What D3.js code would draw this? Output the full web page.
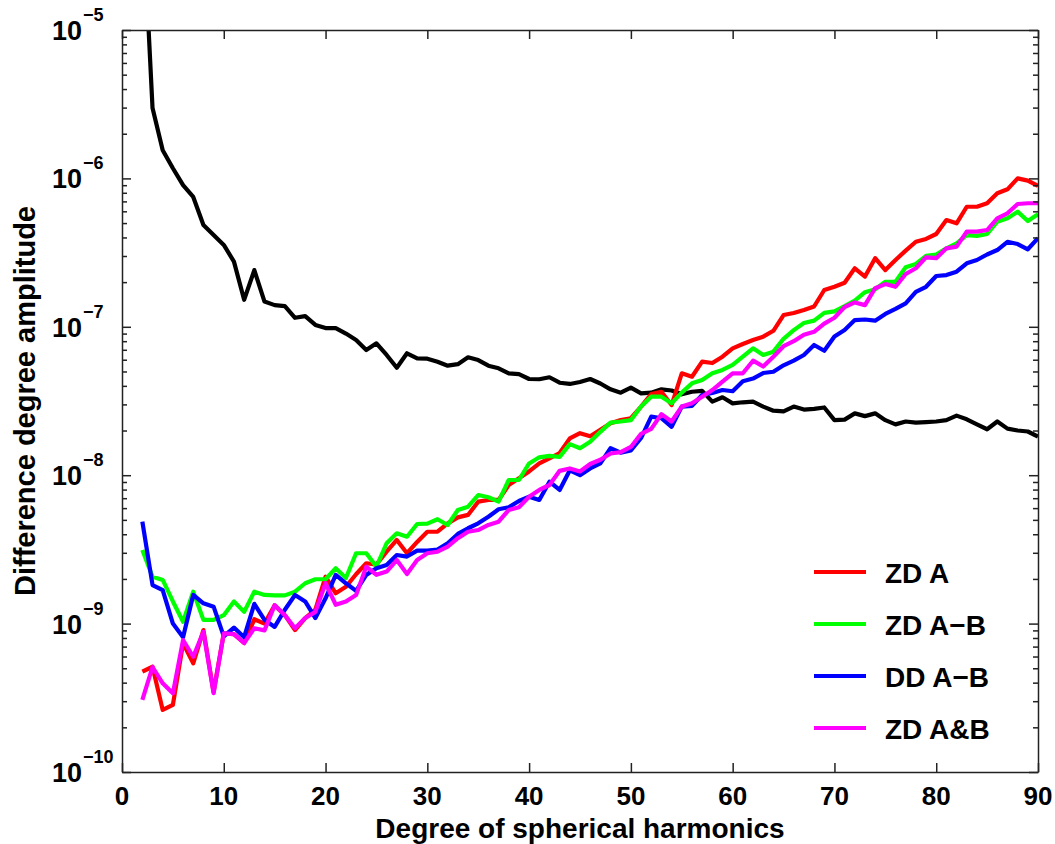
<!DOCTYPE html>
<html><head><meta charset="utf-8">
<script src="https://cdn.jsdelivr.net/npm/d3@7"></script>
<style>
body{margin:0;background:#fff;}
text{font-family:"Liberation Sans",Arial,Helvetica,sans-serif;font-weight:bold;fill:#000;}
</style>
</head><body>
<svg id="chart" width="1055" height="844"></svg>
<script>
// Degree of spherical harmonics (x)
const degrees = d3.range(2, 91);

// Black reference curve
const reference = [
 7e-5, 2.98e-6, 1.55e-6, 1.17e-6, 9.0e-7, 7.5e-7, 4.85e-7, 4.15e-7, 3.56e-7, 2.75e-7,
 1.52e-7, 2.41e-7, 1.48e-7, 1.40e-7, 1.38e-7, 1.15e-7, 1.18e-7, 1.03e-7, 9.8e-8, 9.8e-8,
 9.0e-8, 8.15e-8, 6.98e-8, 7.74e-8, 6.46e-8, 5.3e-8, 6.63e-8, 6.13e-8, 6.1e-8, 5.82e-8,
 5.47e-8, 5.6e-8, 6.23e-8, 5.97e-8, 5.47e-8, 5.25e-8, 4.86e-8, 4.8e-8, 4.45e-8, 4.43e-8,
 4.57e-8, 4.2e-8, 4.12e-8, 4.25e-8, 4.45e-8, 4.15e-8, 3.79e-8, 3.6e-8, 3.89e-8, 3.56e-8,
 3.6e-8, 3.79e-8, 3.72e-8, 3.51e-8, 3.65e-8, 3.7e-8, 3.13e-8, 3.35e-8, 3.05e-8, 3.1e-8,
 3.13e-8, 2.9e-8, 2.72e-8, 2.69e-8, 2.9e-8, 2.77e-8, 2.8e-8, 2.86e-8, 2.35e-8, 2.37e-8,
 2.61e-8, 2.5e-8, 2.61e-8, 2.35e-8, 2.2e-8, 2.3e-8, 2.26e-8, 2.28e-8, 2.3e-8, 2.35e-8,
 2.52e-8, 2.38e-8, 2.2e-8, 2.04e-8, 2.3e-8, 2.06e-8, 2.0e-8, 1.97e-8, 1.82e-8
];
// ZD A (red)
const zdA = [
 4.74e-10, 5.12e-10, 2.62e-10, 2.83e-10, 7.36e-10, 5.4e-10, 9.05e-10, 3.45e-10, 8.6e-10, 8.5e-10,
 7.4e-10, 1.07e-9, 1.0e-9, 1.33e-9, 1.14e-9, 9.05e-10, 1.09e-9, 1.24e-9, 2.07e-9, 1.6e-9,
 1.77e-9, 2.15e-9, 2.55e-9, 2.5e-9, 3.05e-9, 3.66e-9, 2.98e-9, 3.55e-9, 4.16e-9, 4.16e-9,
 4.74e-9, 5.2e-9, 5.4e-9, 6.63e-9, 6.81e-9, 6.81e-9, 8.59e-9, 9.53e-9, 1.06e-8, 1.2e-8,
 1.3e-8, 1.41e-8, 1.77e-8, 1.92e-8, 1.83e-8, 2.02e-8, 2.24e-8, 2.35e-8, 2.42e-8, 2.9e-8,
 3.52e-8, 3.65e-8, 2.97e-8, 4.86e-8, 4.61e-8, 5.82e-8, 5.7e-8, 6.29e-8, 7.16e-8, 7.66e-8,
 8.15e-8, 8.58e-8, 9.4e-8, 1.2e-7, 1.24e-7, 1.3e-7, 1.37e-7, 1.77e-7, 1.86e-7, 1.98e-7,
 2.48e-7, 2.18e-7, 2.9e-7, 2.41e-7, 2.82e-7, 3.26e-7, 3.74e-7, 3.91e-7, 4.22e-7, 5.24e-7,
 4.98e-7, 6.44e-7, 6.44e-7, 6.79e-7, 7.94e-7, 8.44e-7, 1.0e-6, 9.66e-7, 8.89e-7
];
// ZD A-B (green)
const zdAB = [
 3.13e-9, 2.07e-9, 1.97e-9, 1.41e-9, 1.03e-9, 1.64e-9, 1.06e-9, 1.06e-9, 1.14e-9, 1.41e-9,
 1.2e-9, 1.64e-9, 1.56e-9, 1.55e-9, 1.55e-9, 1.64e-9, 1.87e-9, 1.99e-9, 1.99e-9, 2.36e-9,
 2.03e-9, 2.98e-9, 2.98e-9, 2.42e-9, 3.48e-9, 4.06e-9, 3.85e-9, 4.69e-9, 4.72e-9, 5.05e-9,
 4.62e-9, 5.83e-9, 6.13e-9, 7.35e-9, 7.1e-9, 6.63e-9, 9.28e-9, 9.28e-9, 1.2e-8, 1.32e-8,
 1.35e-8, 1.33e-8, 1.62e-8, 1.52e-8, 1.68e-8, 1.96e-8, 2.26e-8, 2.3e-8, 2.35e-8, 2.9e-8,
 3.38e-8, 3.38e-8, 3.05e-8, 3.6e-8, 4.16e-8, 4.38e-8, 4.86e-8, 5.12e-8, 5.53e-8, 6.29e-8,
 7.16e-8, 6.46e-8, 6.8e-8, 8.3e-8, 9.5e-8, 1.06e-7, 1.1e-7, 1.24e-7, 1.27e-7, 1.38e-7,
 1.5e-7, 1.71e-7, 1.79e-7, 2.01e-7, 2.01e-7, 2.52e-7, 2.65e-7, 3.01e-7, 3.07e-7, 3.38e-7,
 3.65e-7, 4.15e-7, 4.1e-7, 4.22e-7, 5.11e-7, 5.38e-7, 5.97e-7, 5.16e-7, 5.73e-7
];
// DD A-B (blue)
const ddAB = [
 4.86e-9, 1.82e-9, 1.68e-9, 1.0e-9, 8.1e-10, 1.56e-9, 1.37e-9, 1.3e-9, 8.2e-10, 9.4e-10,
 8.1e-10, 1.36e-9, 1.06e-9, 9.5e-10, 1.24e-9, 1.56e-9, 1.41e-9, 1.09e-9, 1.48e-9, 2.13e-9,
 1.87e-9, 1.66e-9, 2.13e-9, 2.36e-9, 2.48e-9, 2.9e-9, 2.83e-9, 3.1e-9, 3.1e-9, 3.15e-9,
 3.48e-9, 4.02e-9, 4.39e-9, 4.74e-9, 5.25e-9, 5.89e-9, 6.08e-9, 6.7e-9, 7.16e-9, 6.81e-9,
 9.04e-9, 7.95e-9, 1.08e-8, 1.0e-8, 1.11e-8, 1.2e-8, 1.52e-8, 1.42e-8, 1.47e-8, 1.78e-8,
 2.48e-8, 2.42e-8, 2.12e-8, 2.9e-8, 2.93e-8, 3.47e-8, 3.58e-8, 3.75e-8, 3.68e-8, 4.3e-8,
 4.48e-8, 4.88e-8, 4.98e-8, 5.5e-8, 5.91e-8, 6.46e-8, 7.54e-8, 6.9e-8, 8.6e-8, 9.52e-8,
 1.11e-7, 1.12e-7, 1.1e-7, 1.22e-7, 1.32e-7, 1.44e-7, 1.72e-7, 1.86e-7, 2.2e-7, 2.23e-7,
 2.35e-7, 2.68e-7, 2.82e-7, 3.07e-7, 3.29e-7, 3.74e-7, 3.61e-7, 3.33e-7, 3.95e-7
];
// ZD A&B (magenta)
const zdAandB = [
 3.06e-10, 5.1e-10, 3.96e-10, 3.39e-10, 7.75e-10, 5.98e-10, 8.8e-10, 3.4e-10, 8.6e-10, 8.5e-10,
 7.4e-10, 9.3e-10, 9.0e-10, 1.33e-9, 1.14e-9, 9.3e-10, 1.09e-9, 1.2e-9, 1.87e-9, 1.34e-9,
 1.41e-9, 1.56e-9, 2.42e-9, 2.13e-9, 2.24e-9, 2.68e-9, 2.16e-9, 2.68e-9, 2.98e-9, 3.05e-9,
 3.3e-9, 3.76e-9, 4.16e-9, 4.27e-9, 4.62e-9, 4.86e-9, 5.83e-9, 6.08e-9, 7.16e-9, 7.95e-9,
 8.59e-9, 1.07e-8, 1.11e-8, 1.06e-8, 1.19e-8, 1.27e-8, 1.4e-8, 1.43e-8, 1.55e-8, 1.9e-8,
 2.05e-8, 2.58e-8, 2.3e-8, 2.9e-8, 3.05e-8, 3.38e-8, 3.75e-8, 4.27e-8, 4.86e-8, 4.86e-8,
 5.91e-8, 5.4e-8, 6.29e-8, 7.4e-8, 8.0e-8, 8.85e-8, 9.25e-8, 1.05e-7, 1.15e-7, 1.36e-7,
 1.46e-7, 1.4e-7, 1.82e-7, 1.94e-7, 1.86e-7, 2.27e-7, 2.48e-7, 2.94e-7, 2.9e-7, 3.38e-7,
 3.47e-7, 4.38e-7, 4.38e-7, 4.49e-7, 5.38e-7, 5.82e-7, 6.72e-7, 6.8e-7, 6.8e-7
];

const xTicks = [0, 10, 20, 30, 40, 50, 60, 70, 80, 90];
const yExponents = [-10, -9, -8, -7, -6, -5];
const legendNames = ["ZD A", "ZD A\u2212B", "DD A\u2212B", "ZD A&B"];
const legendColors = ["#ff0000", "#00ff00", "#0000ff", "#ff00ff"];
const xTitle = "Degree of spherical harmonics";
const yTitle = "Difference degree amplitude";

const L = 122, R = 1038, T = 30, B = 772;
const svg = d3.select("#chart");
const x = d3.scaleLinear().domain([0, 90]).range([L, R]);
const y = d3.scaleLog().domain([1e-10, 1e-5]).range([B, T]);

const majors = yExponents.map(e => Math.pow(10, e));
const minors = [];
yExponents.slice(0, -1).forEach(e => { for (let k = 2; k <= 9; k++) minors.push(k * Math.pow(10, e)); });

svg.append("defs").append("clipPath").attr("id", "plotclip")
  .append("rect").attr("x", L).attr("y", T).attr("width", R - L).attr("height", B - T);

// lines
const line = d3.line().x((d, i) => x(degrees[i])).y(d => y(d));
const plot = svg.append("g").attr("clip-path", "url(#plotclip)");
const allSeries = [
  {v: reference, c: "#000000"},
  {v: zdA, c: legendColors[0]},
  {v: zdAB, c: legendColors[1]},
  {v: ddAB, c: legendColors[2]},
  {v: zdAandB, c: legendColors[3]}
];
allSeries.forEach(s => {
  plot.append("path").datum(s.v).attr("d", line)
    .attr("fill", "none").attr("stroke", s.c).attr("stroke-width", 4.2)
    .attr("stroke-linejoin", "round").attr("stroke-linecap", "butt");
});

function styleAxis(g) {
  g.selectAll("path.domain").attr("stroke", "#222").attr("stroke-width", 1.5);
  g.selectAll(".tick line").attr("stroke", "#222").attr("stroke-width", 1.5);
  g.selectAll("text").remove();
}

// x axes
const xb = svg.append("g").attr("transform", `translate(0,${B})`)
  .call(d3.axisBottom(x).tickValues(xTicks).tickSize(-9).tickSizeOuter(0));
styleAxis(xb);
const xt = svg.append("g").attr("transform", `translate(0,${T})`)
  .call(d3.axisTop(x).tickValues(xTicks).tickSize(-9).tickSizeOuter(0));
styleAxis(xt);

// y axes (major and minor)
[[d3.axisLeft, L], [d3.axisRight, R]].forEach(([ax, pos]) => {
  const gm = svg.append("g").attr("transform", `translate(${pos},0)`)
    .call(ax(y).tickValues(majors).tickSize(-9).tickSizeOuter(0));
  styleAxis(gm);
  const gn = svg.append("g").attr("transform", `translate(${pos},0)`)
    .call(ax(y).tickValues(minors).tickSize(-5).tickSizeOuter(0));
  styleAxis(gn);
  gn.select("path.domain").remove();
});

// x tick labels
svg.append("g").selectAll("text").data(xTicks).join("text")
  .attr("x", d => x(d)).attr("y", B + 33)
  .attr("text-anchor", "middle").attr("font-size", 26)
  .text(d => d);

// y tick labels 10^e
const yl = svg.append("g").selectAll("text").data(yExponents).join("text")
  .attr("x", 52).attr("y", d => y(Math.pow(10, d)) + 10).attr("font-size", 27);
yl.append("tspan").text("10");
yl.append("tspan").attr("font-size", 18).attr("dy", -19).attr("dx", 1)
  .text(d => "\u2212" + Math.abs(d));

// axis titles
svg.append("text").attr("x", (L + R) / 2).attr("y", 838)
  .attr("text-anchor", "middle").attr("font-size", 28).text(xTitle);
svg.append("text").attr("transform", `translate(35,${(T + B) / 2}) rotate(-90)`)
  .attr("text-anchor", "middle").attr("font-size", 29).text(yTitle);

// legend
const lg = svg.append("g");
legendNames.forEach((name, i) => {
  const cy = 572 + i * 52;
  lg.append("line").attr("x1", 814).attr("x2", 866).attr("y1", cy).attr("y2", cy)
    .attr("stroke", legendColors[i]).attr("stroke-width", 4);
  lg.append("text").attr("x", 885).attr("y", cy + 11).attr("font-size", 28).text(name);
});
</script>
</body></html>
